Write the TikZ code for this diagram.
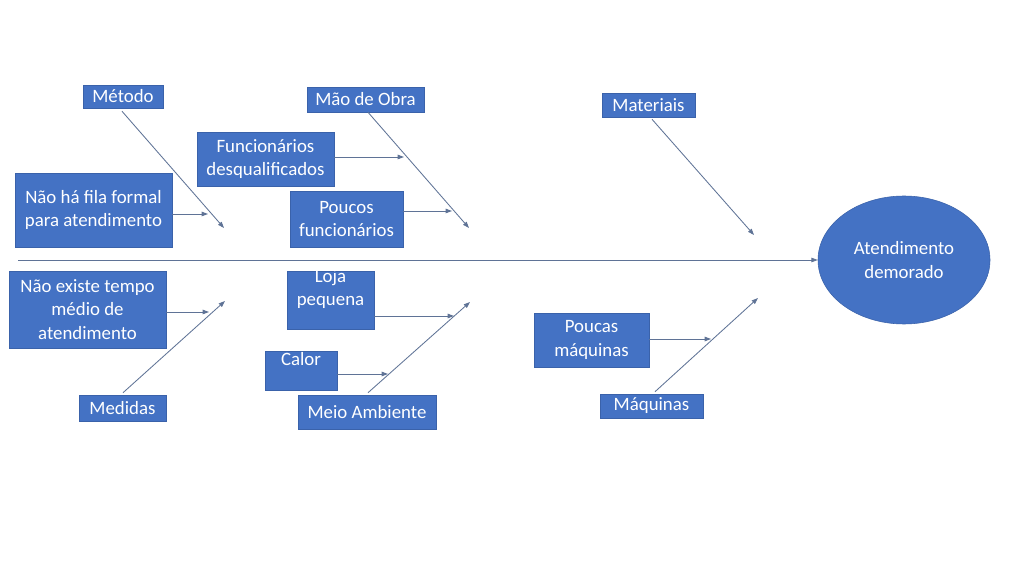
\documentclass[tikz,border=0pt]{standalone}
\usepackage{fontspec}
\setmainfont{Carlito}
\usetikzlibrary{arrows.meta,shapes.geometric}
\definecolor{boxblue}{HTML}{4472C4}
\definecolor{boxedge}{HTML}{3A62AA}
\definecolor{linecol}{RGB}{95,115,150}
\tikzset{
  sz/.style 2 args={minimum width=#1*0.025cm, minimum height=#2*0.025cm},
  cbox/.style={rectangle, fill=boxblue, draw=boxedge, line width=0.4pt, inner sep=0pt,
    text=white, align=center, font=\fontsize{13.4}{16.5}\selectfont},
  lbl/.style={inner sep=0pt, text=white, align=center, font=\fontsize{13.4}{16.5}\selectfont},
  bone/.style={draw=linecol, line width=0.6pt, -{Triangle[length=4.5pt,width=3.2pt]}},
  arr/.style={draw=linecol, line width=0.6pt, -{Triangle[length=4.5pt,width=3.2pt]}}
}
\begin{document}
\begin{tikzpicture}[x=0.025cm, y=-0.025cm]
\useasboundingbox[fill=white] (0,0) rectangle (1024,576);

% effect
\node[ellipse, fill=boxblue, draw=boxedge, line width=0.4pt, sz={172}{128}, inner sep=0pt,
  text=white, align=center, font=\fontsize{13.4}{16.5}\selectfont] (eff) at (904,260) {Atendimento\\demorado};
\coordinate (spst) at (18,260);
\draw[bone] (spst) -- (eff.west);

% category boxes
\node[cbox, sz={80}{23}] (metodo) at (123,96.5) {Método};
\node[cbox, sz={117}{25}] (mao) at (365.5,99.5) {Mão de Obra};
\node[cbox, sz={93}{24}] (mat) at (648.5,105) {Materiais};
\node[cbox, sz={87}{26}] (medidas) at (122.5,408) {Medidas};
\node[cbox, sz={138}{34}] (meio) at (367,412) {Meio Ambiente};
\node[cbox, sz={103}{24}] (maq) at (651.5,406) {Máquinas};

% bone end points
\coordinate (mete) at (224,228);
\coordinate (maoe) at (469,228);
\coordinate (mate) at (754,235);
\coordinate (mede) at (225,301);
\coordinate (meie) at (470,302);
\coordinate (maqe) at (758,298);

\draw[bone] (metodo.south) ++(-1,3) coordinate (mets) -- (mete);
\draw[bone] (mao.south) ++(2.5,0) coordinate (maos) -- (maoe);
\draw[bone] (mat.south) ++(3.5,2) coordinate (mats) -- (mate);
\draw[bone] (medidas.north) ++(0.5,-2) coordinate (meds) -- (mede);
\draw[bone] (meio.north) ++(1,-2) coordinate (meis) -- (meie);
\draw[bone] (maq.north) ++(3.5,-2) coordinate (maqs) -- (maqe);

% causes
\node[cbox, sz={157}{74}] (fila) at (93.5,210) {Não há fila formal\\para atendimento};
\node[cbox, sz={137}{54}] (fdesq) at (265.5,159) {Funcionários\\desqualificados};
\node[cbox, sz={113}{56}] (pfunc) at (346.5,219) {Poucos\\funcionários};
\node[cbox, sz={157}{77}] (tempo) at (87.5,309.5) {Não existe tempo\\médio de\\atendimento};
\node[cbox, sz={87}{58}] (loja) at (330.5,300) {};
\node[lbl] (lojat) at (330.5,289) {Loja\\pequena};
\node[cbox, sz={72}{39}] (calor) at (301,370.5) {};
\node[lbl] (calort) at (301,359) {Calor};
\node[cbox, sz={115}{54}] (pmaq) at (591.5,340) {Poucas\\máquinas};

\coordinate (filae) at (208,214);
\coordinate (fdesqe) at (404,157);
\coordinate (pfunce) at (452,211);
\coordinate (tempoe) at (209,312);
\coordinate (lojae) at (454,316);
\coordinate (calore) at (388,374);
\coordinate (pmaqe) at (711,339);

\draw[arr] (fila.east |- filae) -- (filae);
\draw[arr] (fdesq.east |- fdesqe) -- (fdesqe);
\draw[arr] (pfunc.east |- pfunce) -- (pfunce);
\draw[arr] (tempo.east |- tempoe) -- (tempoe);
\draw[arr] (loja.east |- lojae) -- (lojae);
\draw[arr] (calor.east |- calore) -- (calore);
\draw[arr] (pmaq.east |- pmaqe) -- (pmaqe);
\end{tikzpicture}
\end{document}
